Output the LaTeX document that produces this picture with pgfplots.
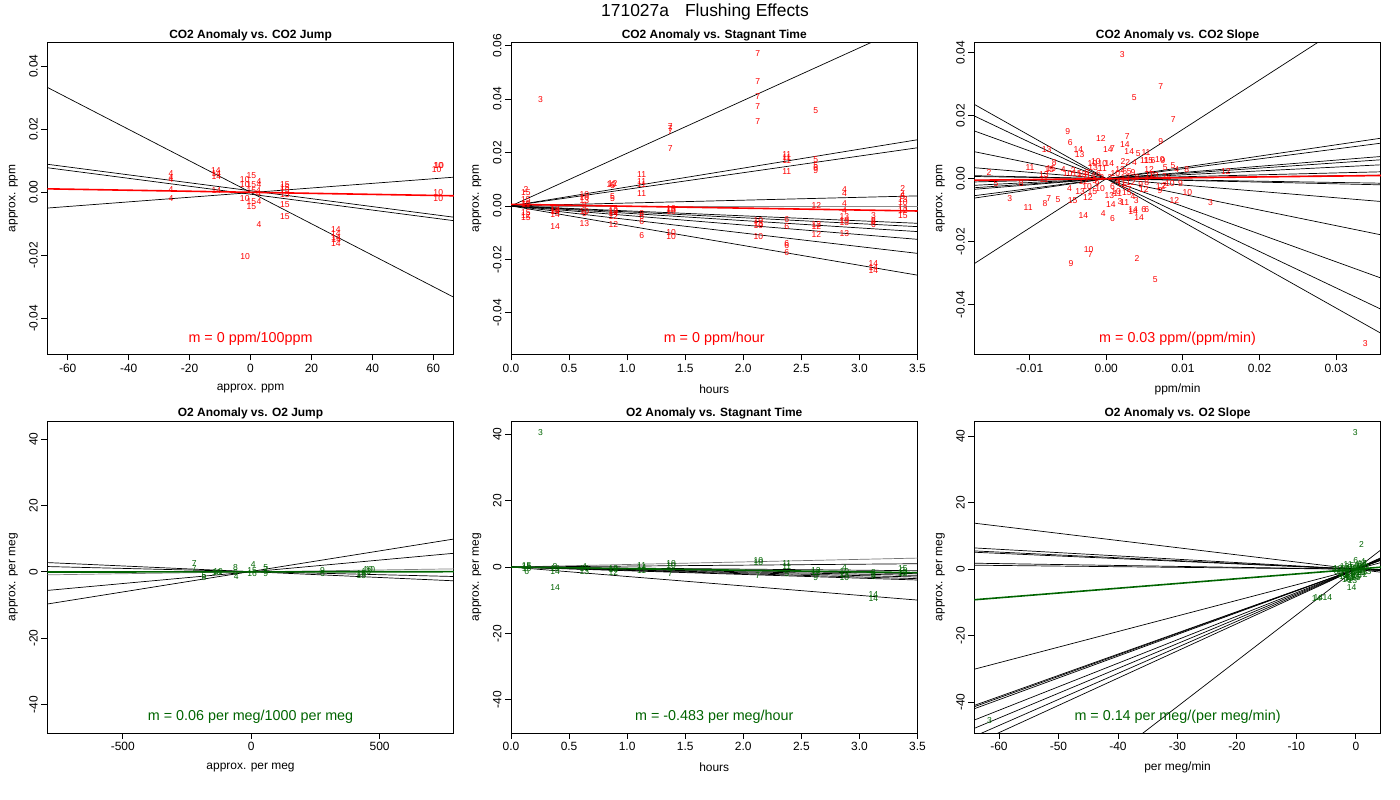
\documentclass[border=0pt]{standalone}
\usepackage{fontspec}
\setmainfont{Liberation Sans}
\usepackage{pgfplots}
\usepackage{pgfplotstable}
\pgfplotsset{compat=1.18}
\definecolor{dg}{RGB}{0,100,0}
\definecolor{rr}{RGB}{255,0,0}

\pgfplotsset{
  every axis title shift=0pt,
  panel/.style={
    scale only axis, width=406.5bp, height=312bp, anchor=south west,
    scaled x ticks=false, scaled y ticks=false,
    axis line style={line width=0.8bp, black},
    xtick pos=bottom, ytick pos=left, tick align=outside,
    major tick length=6bp,
    every tick/.style={black, line width=0.8bp},
    ticklabel style={font=\fontsize{12}{14}\selectfont},
    yticklabel style={rotate=90, anchor=south},
    label style={font=\fontsize{12}{14}\selectfont},
    xlabel style={at={(axis description cs:0.5,-0.111)}, anchor=center},
    ylabel style={at={(axis description cs:-0.0836,0.5)}, anchor=center},
    title style={at={(axis description cs:0.5,1.023)}, anchor=center, font=\bfseries\fontsize{12}{14}\selectfont},
    clip=true,
  },
  lab/.style={only marks, mark=none, nodes near coords={\pgfplotspointmeta}, point meta=explicit symbolic,
    nodes near coords style={anchor=center, inner sep=0pt, font=\fontsize{8.6}{9}\selectfont, text=#1}},
  bl/.style={black, line width=0.7bp},
  fitr/.style={rr, line width=1.6bp},
  fitg/.style={dg, line width=1.6bp},
}

\pgfplotstableread{
x y l
-26.1 0.0059 4
-26.1 0.0047 4
-26.1 0.0040 4
-26.1 0.0008 4
-26.1 -0.0021 4
-11.4 0.0069 14
-11.2 0.0058 14
-11.2 0.0050 14
-11.2 0.0007 14
-1.9 0.0041 10
-1.9 0.0025 10
0.3 0.0052 15
0.3 0.0025 15
2.8 0.0034 4
2.8 0.0025 4
0.3 0.0005 15
2.6 0.0005 4
2.6 -0.0005 4
-1.9 -0.0020 10
0.3 -0.0030 15
0.3 -0.0046 15
2.8 -0.0028 4
2.8 -0.0101 4
-1.75 -0.0204 10
11.3 0.0023 15
11.3 0.0016 15
11.3 0.0005 15
11.3 -0.0008 15
11.3 -0.0038 15
11.3 -0.0077 15
28 -0.0117 14
28 -0.0130 14
28 -0.0144 14
28.2 -0.0150 14
28 -0.0162 14
61.9 0.0086 10
61.6 0.0085 10
61.1 0.0071 10
61.6 -0.0001 10
61.6 -0.0019 10
}\tabA

\pgfplotstableread{
x y l
0.253 0.0399 3
2.125 0.0569 7
2.125 0.0466 7
2.125 0.0410 7
2.125 0.0373 7
2.125 0.0314 7
2.624 0.0355 5
1.372 0.0298 7
1.372 0.0290 7
1.372 0.0277 7
1.372 0.0213 7
2.374 0.0193 11
2.374 0.0180 11
2.374 0.0171 11
2.374 0.0129 11
2.624 0.0175 5
2.624 0.0152 5
2.624 0.0145 6
2.624 0.0133 9
1.125 0.0118 11
1.125 0.0090 11
1.125 0.0080 11
1.125 0.0045 11
0.875 0.0083 12
0.875 0.0078 6
0.865 0.0080 10
0.875 0.0034 5
0.875 0.0027 5
0.632 0.0041 10
0.632 0.0030 10
0.632 0.0019 13
0.632 0.0000 8
0.632 -0.0020 10
0.632 -0.0028 9
0.632 -0.0065 13
0.129 0.0060 2
0.129 0.0048 15
0.129 0.0023 15
0.129 0.0010 10
0.129 0.0004 11
0.129 -0.0025 15
0.129 -0.0035 12
0.129 -0.0043 15
0.379 -0.0010 12
0.379 -0.0016 10
0.379 -0.0022 14
0.379 -0.0034 14
0.379 -0.0078 14
0.881 -0.0018 12
0.881 -0.0022 10
0.881 -0.0027 14
0.881 -0.0038 12
0.881 -0.0069 12
1.125 -0.0028 8
1.125 -0.0040 6
1.125 -0.0059 6
1.125 -0.0111 6
1.378 -0.0010 10
1.378 -0.0015 13
1.378 -0.0020 10
1.378 -0.0098 10
1.378 -0.0115 10
2.13 -0.0055 10
2.13 -0.0065 13
2.13 -0.0072 10
2.13 -0.0115 10
2.374 -0.0050 6
2.374 -0.0078 6
2.374 -0.0141 6
2.374 -0.0147 6
2.374 -0.0174 6
2.63 0.0003 12
2.63 -0.0069 12
2.63 -0.0078 12
2.63 -0.0106 12
2.871 0.0063 4
2.871 0.0045 4
2.871 0.0010 4
2.871 -0.0018 4
2.871 -0.0040 13
2.871 -0.0053 10
2.871 -0.0063 13
2.871 -0.0103 13
3.121 -0.0036 3
3.121 -0.0053 8
3.121 -0.0060 8
3.121 -0.0071 6
3.121 -0.0215 14
3.121 -0.0231 14
3.121 -0.0240 14
3.374 0.0066 2
3.374 0.0041 4
3.374 0.0033 5
3.374 0.0023 13
3.374 0.0013 10
3.374 -0.0009 13
3.374 -0.0018 12
3.374 -0.0036 15
}\tabB

\pgfplotstableread{
x y l
0.00209 0.0394 3
0.0071 0.0292 7
0.00365 0.0257 5
0.00874 0.0188 7
-0.00503 0.0149 9
0.0071 0.0117 9
0.00274 0.0135 7
-0.0007 0.0128 12
-0.0047 0.0114 6
-0.00777 0.0093 13
-0.00365 0.0093 14
-0.00347 0.0075 13
0.0002 0.0093 14
0.0008 0.0096 7
0.00244 0.0107 14
0.0030 0.0086 14
0.00418 0.0080 5
0.00518 0.0082 11
-0.00995 0.0036 11
-0.00678 0.0051 8
-0.00743 0.0030 15
-0.0072 0.0033 15
-0.00813 0.0014 13
-0.00813 -0.0004 11
-0.0056 0.0028 4
-0.00503 0.0017 10
-0.0043 0.0026 2
-0.0032 0.0012 13
-0.0038 0.0015 15
-0.00134 0.0054 10
-0.0018 0.0047 10
-0.0005 0.0048 10
-0.0017 0.0035 13
-0.0005 0.0032 11
0.0004 0.0047 14
0.0022 0.0054 2
0.0028 0.0050 2
0.0037 0.0051 4
0.0050 0.0057 11
0.0055 0.0057 15
0.0061 0.0057 6
0.0070 0.0062 10
0.0074 0.0058 9
0.0087 0.0043 5
0.0077 0.0036 5
0.0092 0.0028 4
0.0105 0.0030 8
0.0156 0.0022 12
0.0056 0.0030 12
0.0024 0.0022 6
0.0030 0.0022 5
0.0035 0.0018 9
0.0057 0.0012 12
0.0062 0.0010 13
0.0076 0.0007 2
0.0081 0.0004 4
0.0083 -0.0015 10
0.0097 -0.0015 9
0.0071 -0.0025 12
0.0076 -0.0023 2
0.0070 -0.0038 9
0.0106 -0.0043 10
0.0089 -0.0068 12
0.0136 -0.0076 3
0.0053 -0.0013 8
0.0049 -0.0034 12
0.0024 -0.0023 6
0.0039 -0.0071 3
0.0024 -0.0076 11
0.0049 -0.0097 6
0.0053 -0.0097 6
0.0035 -0.0099 14
0.0035 -0.0105 14
0.0043 -0.0122 14
0.0004 -0.0052 13
0.0006 -0.0081 14
0.0018 -0.0072 3
0.0013 -0.0041 10
-0.0030 -0.0117 14
-0.0004 -0.0112 4
0.0008 -0.0126 6
-0.0048 -0.0031 4
-0.0034 -0.0041 13
-0.0024 -0.0059 12
-0.0044 -0.0070 15
-0.0063 -0.0065 5
-0.0075 -0.0063 7
-0.0080 -0.0078 8
-0.0102 -0.0092 11
-0.0046 -0.0268 9
-0.0023 -0.0226 10
-0.0021 -0.0242 7
0.0040 -0.0252 2
0.0064 -0.0319 5
0.0338 -0.0522 3
-0.0153 0.0020 2
-0.0144 -0.0017 5
-0.0111 -0.0017 8
-0.0126 -0.0062 3
-0.0025 0.0020 8
-0.0020 0.0010 14
-0.0015 -0.0005 5
-0.0010 0.0015 6
-0.0012 -0.0015 9
-0.0008 -0.0030 10
-0.0030 -0.0010 12
-0.0025 -0.0025 10
-0.0018 -0.0040 15
-0.0006 0.0003 3
0.0005 0.0005 2
0.0012 0.0015 10
0.0015 -0.0008 4
0.0020 -0.0015 11
0.0025 0.0005 13
0.0030 -0.0035 7
0.0015 -0.0048 11
0.0008 -0.0025 6
0.0027 -0.0045 15
0.0032 -0.0012 12
0.0040 0.0005 8
0.0035 -0.0058 4
0.0045 -0.0020 9
-0.0028 0.0002 7
0.0018 0.0030 12
}\tabC

\pgfplotstableread{
x y l
-221.8 2.6 7
-221.8 0.9 7
-184.2 -1.1 5
-184.2 -1.6 8
-128.4 0.1 10
-134.9 -0.2 10
-61 1.3 8
-61 -0.1 6
-58.4 -1.4 4
7.8 2.3 4
3.9 0.4 15
3.9 -0.4 16
57 1.3 5
57 0.6 7
57 -0.4 9
277.6 0.4 9
277.6 -0.4 6
429.3 -0.4 15
429.3 -1.2 15
455.3 0.6 10
464.3 0.6 10
448.8 0.1 13
}\tabD

\pgfplotstableread{
x y l
0.253 40.6 3
0.379 -6.1 14
0.135 0.4 15
0.135 0.0 15
0.135 -0.6 10
0.135 -1.3 6
0.379 0.2 8
0.379 -0.5 10
0.379 -1.3 14
0.632 0.2 4
0.632 -0.5 10
0.632 -1.3 13
0.881 -0.3 12
0.881 -0.9 10
0.881 -1.6 12
1.125 0.5 11
1.125 -0.3 14
1.125 -1.1 11
1.378 1.2 10
1.378 0.5 10
1.372 -2.0 7
2.13 2.0 10
2.13 1.5 10
2.125 -2.6 7
2.374 1.0 11
2.374 0.2 11
2.374 -2.0 5
2.624 -1.0 12
2.624 -1.6 12
2.624 -3.1 9
2.871 -0.3 4
2.871 -1.5 10
2.871 -2.3 13
2.871 -3.1 10
3.121 -1.8 8
3.121 -2.3 3
3.121 -2.8 6
3.121 -8.3 14
3.121 -9.5 14
3.374 -0.6 15
3.374 -1.0 2
3.374 -1.6 13
3.374 -2.0 12
}\tabE

\pgfplotstableread{
x y l
-0.1 41.2 3
0.95 7.4 2
0.0 2.6 6
1.2 2.3 4
-61.6 -45.7 3
-0.7 -5.5 14
-6.3 -8.4 14
-6.6 -8.8 14
-4.8 -8.5 14
-1.5 -0.5 8
-2.2 0.3 9
-1.8 -1.2 12
-1.2 -2.8 13
-0.8 -2.6 15
-0.3 0.5 10
0.5 -0.5 11
1.2 -1.0 5
0.3 0.8 7
1.5 1.8 4
-0.5 -1.5 6
0.8 0.2 10
-0.2 -0.8 12
0.6 -1.6 2
1.8 -0.8 13
-1.0 0.6 9
0.2 -2.0 15
-2.6 -0.2 11
-1.0 -2.4 14
-0.6 1.0 5
1.0 0.9 8
0.3 -0.3 6
-1.6 0.1 7
-0.9 -1.0 10
0.5 0.0 3
-0.2 -0.1 4
1.4 0.4 12
-0.2 -2.6 14
-3.3 -0.6 6
-3.0 0.2 12
-2.7 -1.0 5
-2.3 -1.6 10
-1.9 0.9 13
-1.3 1.3 11
-1.4 -1.8 8
-0.9 -0.2 15
-0.4 -2.0 9
0.1 1.4 4
0.2 -1.1 12
0.7 1.3 6
0.9 -0.9 10
1.3 -0.3 7
1.6 -1.5 2
1.7 0.9 11
-0.6 -3.3 13
-1.5 -3.0 15
-2.0 -2.2 14
-3.6 -0.1 8
-0.1 0.2 9
0.4 -2.6 5
1.1 1.6 13
}\tabF

\begin{document}
\begin{tikzpicture}
\path[use as bounding box] (0,0) rectangle (1400bp,800bp);
\node[font=\fontsize{17.5}{20}\selectfont, anchor=base, inner sep=0pt] at (705bp,783.3bp) {171027a\hspace*{16bp}Flushing Effects};

% ---------- top left
\begin{axis}[panel, at={(47.3bp,445.7bp)},
  xmin=-66.7, xmax=66.7, ymin=-0.0514, ymax=0.0476,
  xtick={-60,-40,-20,0,20,40,60}, xticklabels={-60,-40,-20,0,20,40,60},
  ytick={-0.04,-0.02,0,0.02,0.04}, yticklabels={-0.04,-0.02,0.00,0.02,0.04},
  title={CO2 Anomaly vs. CO2 Jump}, xlabel={approx. ppm}, ylabel={approx. ppm}]
\addplot[bl] coordinates {(-66.7,0.0333) (66.7,-0.0333)};
\addplot[bl] coordinates {(-66.7,0.0089) (66.7,-0.0079)};
\addplot[bl] coordinates {(-66.7,0.0078) (66.7,-0.0090)};
\addplot[bl] coordinates {(-66.7,-0.0050) (66.7,0.0048)};
\addplot[lab=rr] table[x=x,y=y,meta=l] {\tabA};
\addplot[fitr] coordinates {(-66.7,0.0011) (66.7,-0.0011)};
\node[text=rr, font=\fontsize{14.4}{17}\selectfont] at (axis description cs:0.5,0.051) {m = 0 ppm/100ppm};
\end{axis}

% ---------- top middle
\begin{axis}[panel, at={(511bp,445.7bp)},
  xmin=0, xmax=3.5, ymin=-0.0555, ymax=0.0612,
  xtick={0,0.5,1,1.5,2,2.5,3,3.5}, xticklabels={0.0,0.5,1.0,1.5,2.0,2.5,3.0,3.5},
  ytick={-0.04,-0.02,0,0.02,0.04,0.06}, yticklabels={-0.04,-0.02,0.00,0.02,0.04,0.06},
  title={CO2 Anomaly vs. Stagnant Time}, xlabel={hours}, ylabel={approx. ppm}]
\addplot[bl] coordinates {(0,0) (3.5,0.0690)};
\addplot[bl] coordinates {(0,0) (3.5,0.02475)};
\addplot[bl] coordinates {(0,0) (3.5,0.02175)};
\addplot[bl] coordinates {(0,0) (3.5,0.00375)};
\addplot[black!45, line width=0.7bp] coordinates {(0,0) (3.5,0.0)};
\addplot[bl] coordinates {(0,0) (3.5,-0.0065)};
\addplot[bl] coordinates {(0,0) (3.5,-0.00775)};
\addplot[bl] coordinates {(0,0) (3.5,-0.0096)};
\addplot[bl] coordinates {(0,0) (3.5,-0.0125)};
\addplot[bl] coordinates {(0,0) (3.5,-0.01775)};
\addplot[bl] coordinates {(0,0) (3.5,-0.0259)};
\addplot[lab=rr] table[x=x,y=y,meta=l] {\tabB};
\addplot[fitr] coordinates {(0,0.0006) (3.5,-0.0019)};
\node[text=rr, font=\fontsize{14.4}{17}\selectfont] at (axis description cs:0.5,0.051) {m = 0 ppm/hour};
\end{axis}

% ---------- top right
\begin{axis}[panel, at={(974.3bp,445.7bp)},
  xmin=-0.01722, xmax=0.03583, ymin=-0.0557, ymax=0.04325,
  xtick={-0.01,0,0.01,0.02,0.03}, xticklabels={-0.01,0.00,0.01,0.02,0.03},
  ytick={-0.04,-0.02,0,0.02,0.04}, yticklabels={-0.04,-0.02,0.00,0.02,0.04},
  title={CO2 Anomaly vs. CO2 Slope}, xlabel={ppm/min}, ylabel={approx. ppm}]
\addplot[bl] coordinates {(-0.0173,-0.02707) (0.0359,0.05618)};
\addplot[bl] coordinates {(-0.0173,-0.00619) (0.0359,0.01285)};
\addplot[bl] coordinates {(-0.0173,-0.00543) (0.0359,0.01127)};
\addplot[bl] coordinates {(-0.0173,-0.00339) (0.0359,0.00704)};
\addplot[bl] coordinates {(-0.0173,-0.00289) (0.0359,0.00600)};
\addplot[bl] coordinates {(-0.0173,-0.00212) (0.0359,0.00440)};
\addplot[bl] coordinates {(-0.0173,-0.00105) (0.0359,0.00218)};
\addplot[bl] coordinates {(-0.0173,-0.00054) (0.0359,0.00111)};
\addplot[bl] coordinates {(-0.0173,0.00069) (0.0359,-0.00144)};
\addplot[bl] coordinates {(-0.0173,0.00095) (0.0359,-0.00196)};
\addplot[bl] coordinates {(-0.0173,0.00349) (0.0359,-0.00725)};
\addplot[bl] coordinates {(-0.0173,0.00860) (0.0359,-0.01784)};
\addplot[bl] coordinates {(-0.0173,0.01521) (0.0359,-0.03156)};
\addplot[bl] coordinates {(-0.0173,0.01998) (0.0359,-0.04146)};
\addplot[bl] coordinates {(-0.0173,0.02367) (0.0359,-0.04911)};
\addplot[lab=rr] table[x=x,y=y,meta=l] {\tabC};
\addplot[fitr] coordinates {(-0.0173,-0.0005) (0.0359,0.0010)};
\node[text=rr, font=\fontsize{14.4}{17}\selectfont] at (axis description cs:0.5,0.051) {m = 0.03 ppm/(ppm/min)};
\end{axis}

% ---------- bottom left
\begin{axis}[panel, at={(47.3bp,67bp)},
  xmin=-794, xmax=789, ymin=-48.6, ymax=45.5,
  xtick={-500,0,500}, xticklabels={-500,0,500},
  ytick={-40,-20,0,20,40}, yticklabels={-40,-20,0,20,40},
  title={O2 Anomaly vs. O2 Jump}, xlabel={approx. per meg}, ylabel={approx. per meg}]
\addplot[bl] coordinates {(-794,2.8) (789,-2.7)};
\addplot[bl] coordinates {(-794,1.6) (789,-1.4)};
\addplot[black!50, line width=0.7bp] coordinates {(-794,-0.9) (789,0.9)};
\addplot[bl] coordinates {(-794,-5.6) (789,5.6)};
\addplot[bl] coordinates {(-794,-9.7) (789,9.9)};
\addplot[lab=dg] table[x=x,y=y,meta=l] {\tabD};
\addplot[fitg] coordinates {(-794,-0.05) (789,0.05)};
\node[text=dg, font=\fontsize{14.4}{17}\selectfont] at (axis description cs:0.5,0.051) {m = 0.06 per meg/1000 per meg};
\end{axis}

% ---------- bottom middle
\begin{axis}[panel, at={(511bp,67bp)},
  xmin=0, xmax=3.5, ymin=-50, ymax=44,
  xtick={0,0.5,1,1.5,2,2.5,3,3.5}, xticklabels={0.0,0.5,1.0,1.5,2.0,2.5,3.0,3.5},
  ytick={-40,-20,0,20,40}, yticklabels={-40,-20,0,20,40},
  title={O2 Anomaly vs. Stagnant Time}, xlabel={hours}, ylabel={approx. per meg}]
\addplot[black!55, line width=0.7bp] coordinates {(0,0) (3.5,2.7)};
\addplot[bl] coordinates {(0,0) (3.5,1.0)};
\addplot[bl] coordinates {(0,0) (3.5,-1.1)};
\addplot[bl] coordinates {(0,0) (3.5,-2.0)};
\addplot[bl] coordinates {(0,0) (3.5,-2.5)};
\addplot[bl] coordinates {(0,0) (3.5,-3.0)};
\addplot[bl] coordinates {(0,0) (3.5,-3.5)};
\addplot[bl] coordinates {(0,0) (3.5,-3.9)};
\addplot[bl] coordinates {(0,0) (3.5,-9.95)};
\addplot[lab=dg] table[x=x,y=y,meta=l] {\tabE};
\addplot[fitg] coordinates {(0,0) (3.5,-1.69)};
\node[text=dg, font=\fontsize{14.4}{17}\selectfont] at (axis description cs:0.5,0.051) {m = -0.483 per meg/hour};
\end{axis}

% ---------- bottom right
\begin{axis}[panel, at={(974.3bp,67bp)},
  xmin=-64.15, xmax=4.2, ymin=-49.3, ymax=44.6,
  xtick={-60,-50,-40,-30,-20,-10,0}, xticklabels={-60,-50,-40,-30,-20,-10,0},
  ytick={-40,-20,0,20,40}, yticklabels={-40,-20,0,20,40},
  title={O2 Anomaly vs. O2 Slope}, xlabel={per meg/min}, ylabel={approx. per meg}]
\addplot[bl] coordinates {(-64.15,13.85) (4.2,-0.907)};
\addplot[bl] coordinates {(-64.15,6.4) (4.2,-0.419)};
\addplot[bl] coordinates {(-64.15,5.5) (4.2,-0.36)};
\addplot[bl] coordinates {(-64.15,5.1) (4.2,-0.334)};
\addplot[bl] coordinates {(-64.15,1.8) (4.2,-0.118)};
\addplot[bl] coordinates {(-64.15,1.2) (4.2,-0.079)};
\addplot[bl] coordinates {(-64.15,-30.1) (4.2,1.97)};
\addplot[bl] coordinates {(-64.15,-41.0) (4.2,2.68)};
\addplot[bl] coordinates {(-64.15,-41.4) (4.2,2.71)};
\addplot[bl] coordinates {(-64.15,-42.0) (4.2,2.75)};
\addplot[bl] coordinates {(-64.15,-45.4) (4.2,2.97)};
\addplot[bl] coordinates {(-64.15,-47.9) (4.2,3.14)};
\addplot[bl] coordinates {(-64.15,-50.3) (4.2,3.29)};
\addplot[bl] coordinates {(-64.15,-52.6) (4.2,3.44)};
\addplot[bl] coordinates {(-64.15,-88.4) (4.2,5.79)};
\addplot[lab=dg] table[x=x,y=y,meta=l] {\tabF};
\addplot[fitg] coordinates {(-64.15,-9.2) (4.2,0.602)};
\node[text=dg, font=\fontsize{14.4}{17}\selectfont] at (axis description cs:0.5,0.051) {m = 0.14 per meg/(per meg/min)};
\end{axis}
\end{tikzpicture}
\end{document}
